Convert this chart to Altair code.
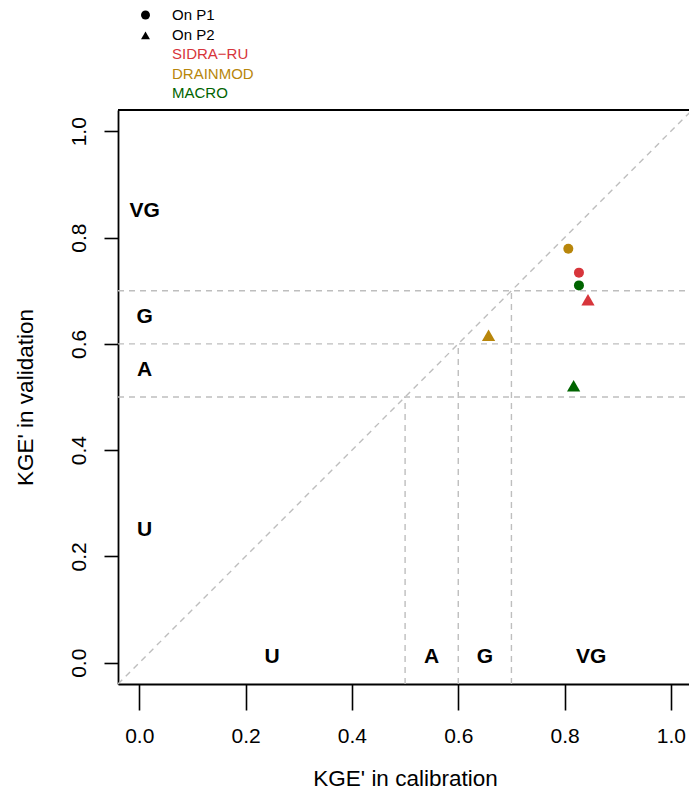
import altair as alt
import pandas as pd

# ---- data ----
models = ["SIDRA−RU", "DRAINMOD", "MACRO", "SIDRA−RU", "DRAINMOD", "MACRO"]
periods = ["On P1", "On P1", "On P1", "On P2", "On P2", "On P2"]
calib = [0.827, 0.807, 0.827, 0.844, 0.657, 0.817]
valid = [0.734, 0.779, 0.710, 0.683, 0.616, 0.521]

model_names = ["SIDRA−RU", "DRAINMOD", "MACRO"]
model_colors = ["#D7353B", "#B8860B", "#006400"]
period_names = ["On P1", "On P2"]
period_shapes = ["circle", "triangle-up"]

thresholds = [0.5, 0.6, 0.7]
class_labels = ["VG", "G", "A", "U"]
class_mid = [0.85, 0.65, 0.55, 0.25]
class_edge = 0.01

diag = [-0.04, 1.04]
tick_vals = [0.0, 0.2, 0.4, 0.6, 0.8, 1.0]

W, H = 571, 574
FONT = "Liberation Sans"

pts = pd.DataFrame({"model": models, "period": periods, "calib": calib, "valid": valid})
diag_df = pd.DataFrame({"x": diag, "y": diag})
th_df = pd.DataFrame({"t": thresholds, "lo": [diag[0]] * 3, "hi": [diag[1]] * 3})
left_lab = pd.DataFrame({"lab": class_labels, "x": [class_edge] * 4, "y": class_mid})
bot_lab = pd.DataFrame({"lab": class_labels, "x": class_mid, "y": [class_edge] * 4})

xs = alt.Scale(domain=[-0.04, 1.034], nice=False, zero=False)
ys = alt.Scale(domain=[-0.04, 1.04], nice=False, zero=False)

x_axis = alt.Axis(values=tick_vals, format=".1f", grid=False, tickSize=26, tickWidth=1.6,
                  tickColor="black", domainColor="black", domainWidth=1.8,
                  labelFont=FONT, labelFontSize=21, labelColor="black",
                  labelBaseline="alphabetic", labelPadding=32,
                  title="KGE' in calibration", titleFont=FONT, titleFontSize=22.5,
                  titleFontWeight="normal", titleColor="black",
                  titleBaseline="alphabetic", titleX=287, titleY=101)
y_axis = alt.Axis(values=tick_vals, format=".1f", grid=False, tickSize=14, tickWidth=1.6,
                  tickColor="black", domainColor="black", domainWidth=1.8,
                  labelFont=FONT, labelFontSize=21, labelColor="black",
                  labelAngle=-90, labelAlign="center", labelBaseline="alphabetic",
                  labelPadding=19,
                  title="KGE' in validation", titleFont=FONT, titleFontSize=22.5,
                  titleFontWeight="normal", titleColor="black", titleAngle=-90,
                  titleBaseline="alphabetic", titleAlign="center", titleX=-86, titleY=287)

GREY = "#BEBEBE"
DASH = [6, 5]

diag_line = alt.Chart(diag_df).mark_line(color=GREY, strokeDash=DASH, strokeWidth=1.4, clip=True).encode(
    x=alt.X("x:Q", scale=xs, axis=x_axis), y=alt.Y("y:Q", scale=ys, axis=y_axis))

h_lines = alt.Chart(th_df).mark_rule(color=GREY, strokeDash=DASH, strokeWidth=1.4, clip=True).encode(
    x="lo:Q", x2="hi:Q", y="t:Q")
v_lines = alt.Chart(th_df).mark_rule(color=GREY, strokeDash=DASH, strokeWidth=1.4, clip=True).encode(
    y="lo:Q", y2="t:Q", x="t:Q")

label_color_expr = ("datum.value == 'MACRO' ? '#006400' : "
                    "(datum.value == 'DRAINMOD' ? '#B8860B' : '#D7353B')")

color_enc = alt.Color("model:N", scale=alt.Scale(domain=model_names, range=model_colors),
                      legend=alt.Legend(title=None, orient="none", legendX=20, legendY=-63.9,
                                        symbolOpacity=0, symbolSize=80, labelOffset=19,
                                        labelFont=FONT, labelFontSize=15, padding=0,
                                        rowPadding=3.9, labelColor={"expr": label_color_expr}))
shape_enc = alt.Shape("period:N", scale=alt.Scale(domain=period_names, range=period_shapes),
                      legend=alt.Legend(title=None, orient="none", legendX=20, legendY=-102.5,
                                        symbolSize=80, symbolFillColor="black",
                                        symbolStrokeColor="black", symbolStrokeWidth=0,
                                        labelOffset=19, labelFont=FONT, labelFontSize=15,
                                        labelColor="black", padding=0, rowPadding=4.3))

p1 = alt.Chart(pts).transform_filter(alt.datum.period == "On P1").mark_point(
    filled=True, opacity=1, size=100).encode(x="calib:Q", y="valid:Q", color=color_enc, shape=shape_enc)
p2 = alt.Chart(pts).transform_filter(alt.datum.period == "On P2").mark_point(
    filled=True, opacity=1, size=175).encode(x="calib:Q", y="valid:Q", color=color_enc, shape=shape_enc)

lab_style = dict(font=FONT, fontSize=21, fontWeight="bold", color="black",
                 align="center", baseline="middle")
t_left = alt.Chart(left_lab).mark_text(**lab_style).encode(x="x:Q", y="y:Q", text="lab:N")
t_bot = alt.Chart(bot_lab).mark_text(**lab_style).encode(x="x:Q", y="y:Q", text="lab:N")

top_border = alt.Chart(pd.DataFrame({"a": [0]})).mark_rule(color="black", strokeWidth=1.8).encode(
    x=alt.value(0), x2=alt.value(W), y=alt.value(0))

chart = alt.layer(diag_line, h_lines, v_lines, t_left, t_bot, p1, p2, top_border).properties(
    width=W, height=H, autosize=alt.AutoSizeParams(type="none"),
    padding={"left": 118, "top": 110, "right": 0, "bottom": 108},
    background="white"
).configure_view(strokeWidth=0)

chart.save("out.html", embed_options={"renderer": "svg", "actions": False})
